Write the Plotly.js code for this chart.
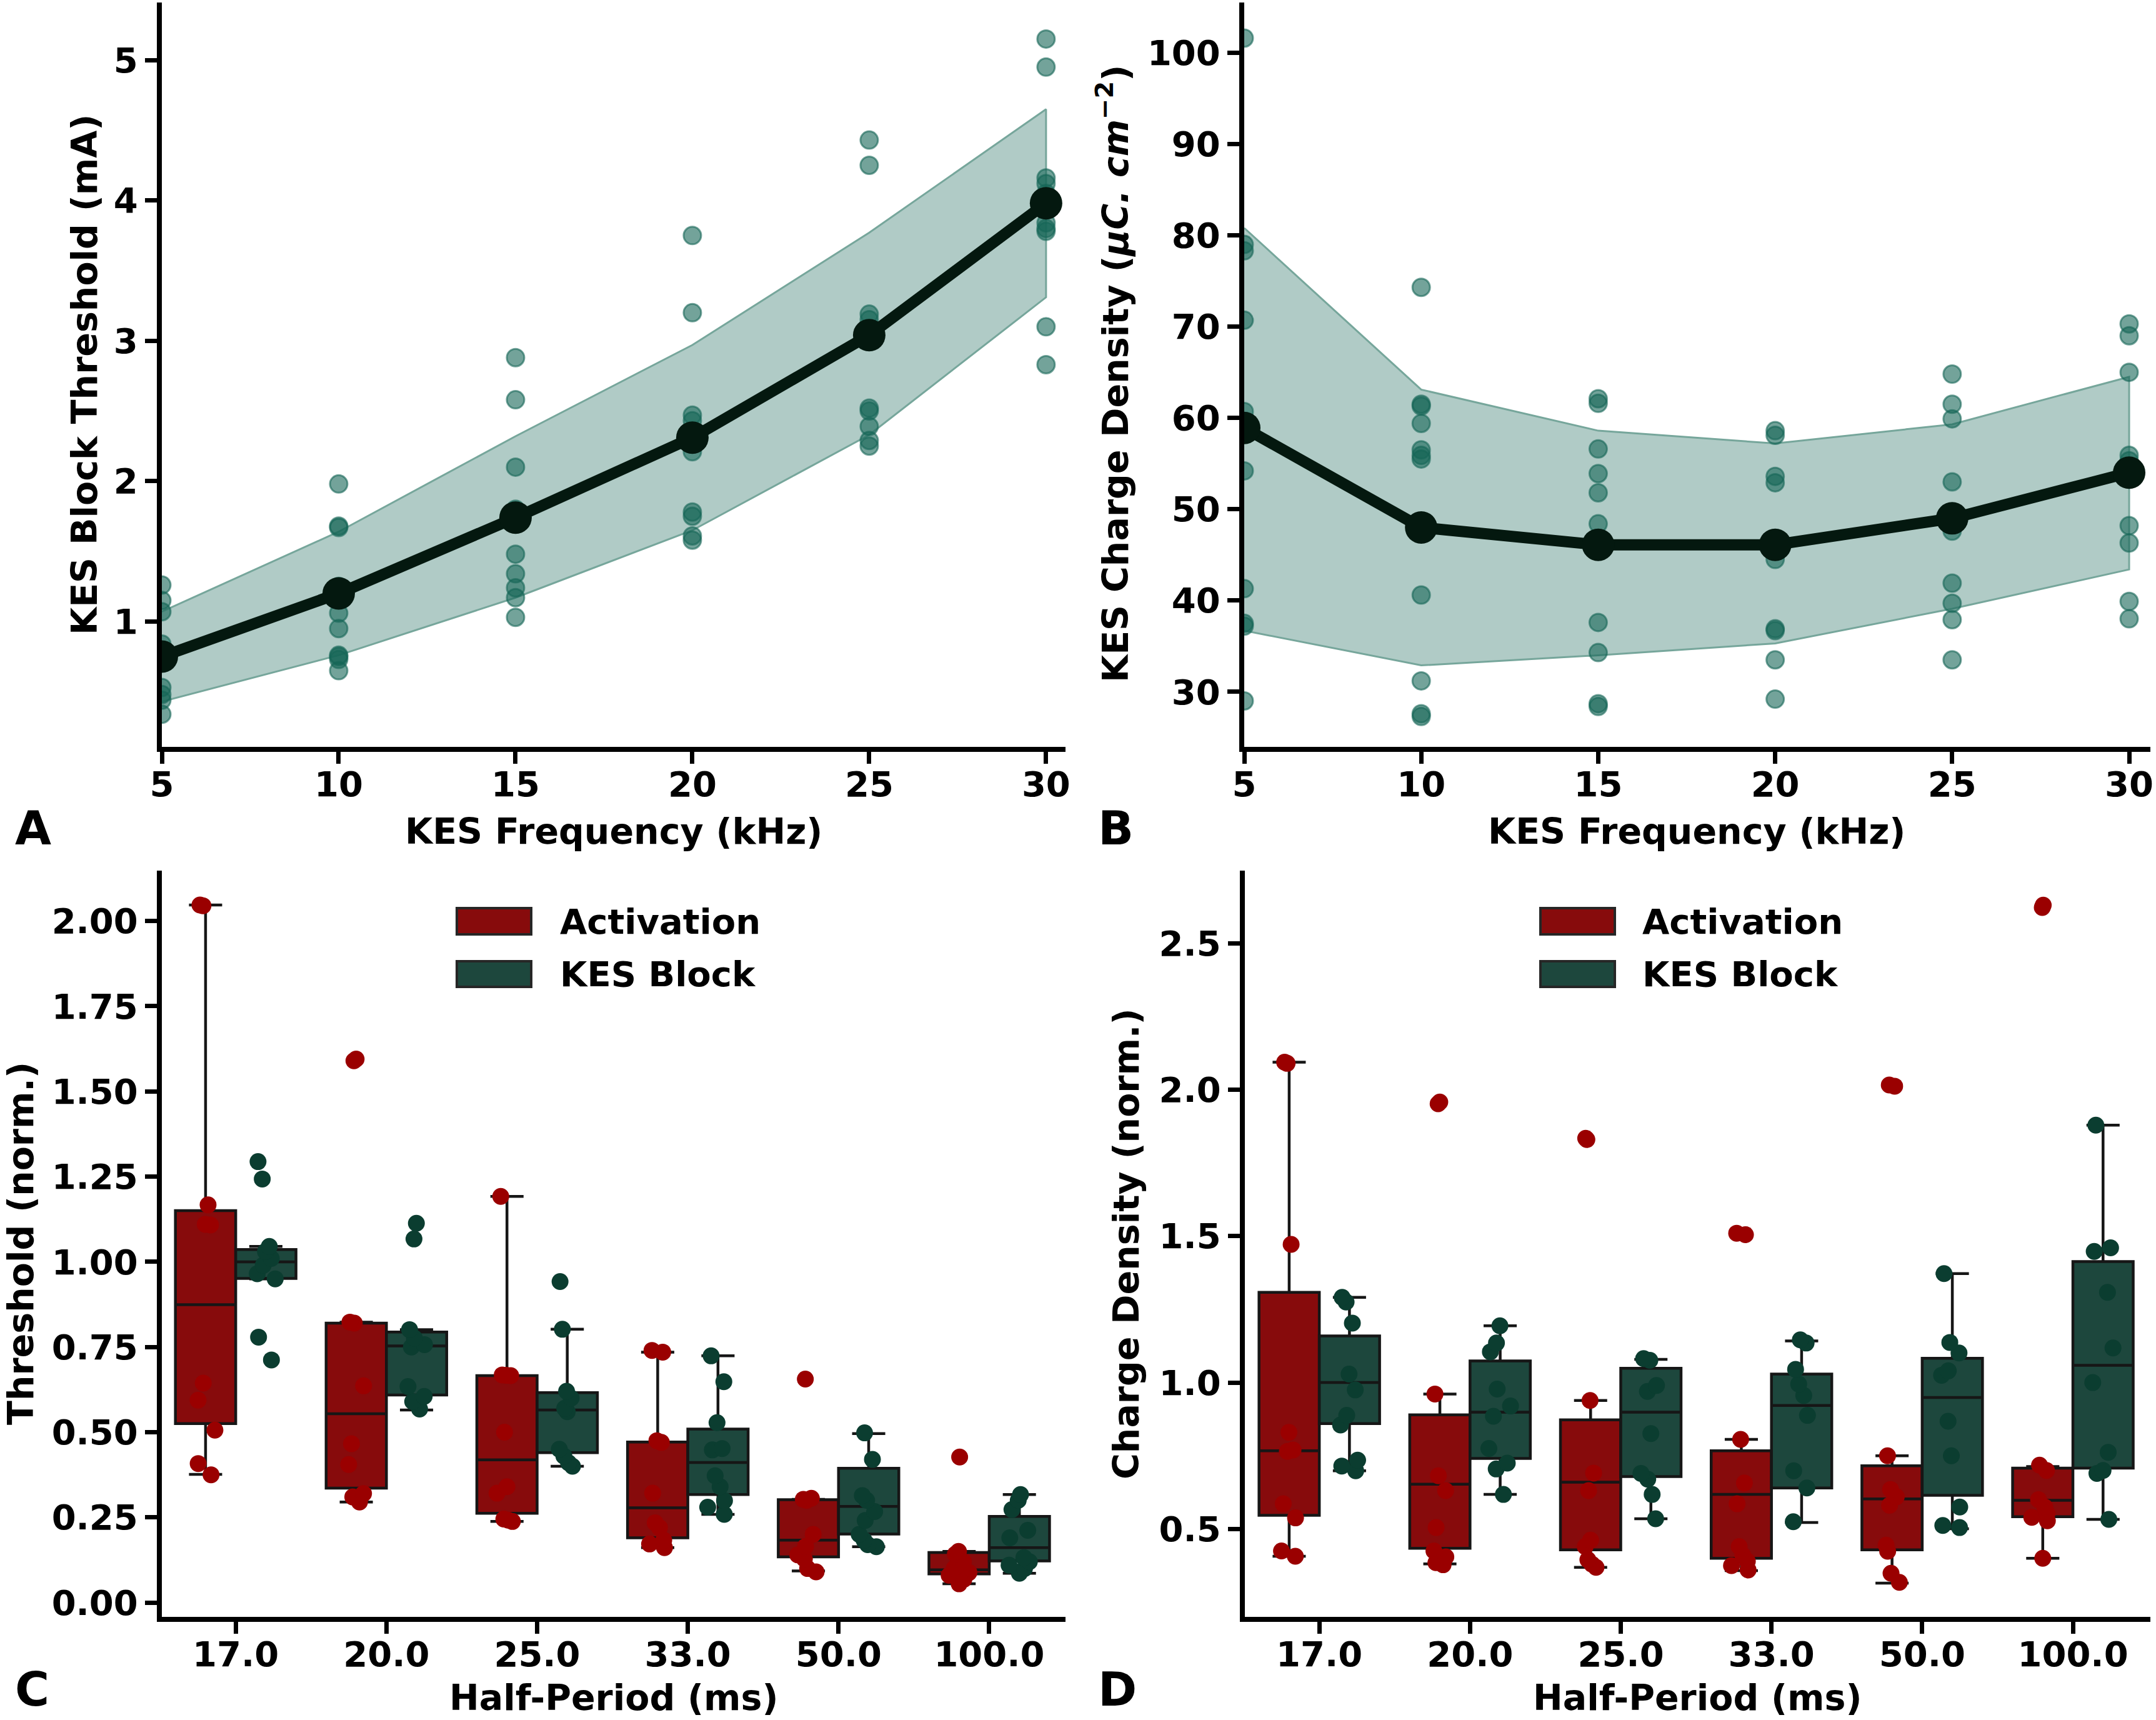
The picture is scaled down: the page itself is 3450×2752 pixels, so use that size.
<!DOCTYPE html>
<html>
<head>
<meta charset="utf-8">
<script src="https://cdn.plot.ly/plotly-3.0.1.min.js"></script>
<style>
  html, body { margin: 0; padding: 0; background: #ffffff; }
  #chart { width: 3450px; height: 2752px; }
</style>
</head>
<body>
<div id="chart"></div>
<script>
// ---------- Panel A / B: KES frequency sweep ----------
const freqs = [5, 10, 15, 20, 25, 30];

// A: block threshold (mA)
const thrMean  = [0.75, 1.20, 1.74, 2.31, 3.04, 3.98];
const thrUpper = [1.07, 1.64, 2.32, 2.97, 3.77, 4.65];
const thrLower = [0.43, 0.76, 1.17, 1.65, 2.33, 3.31];
const thrPoints = [
  [1.26, 1.15, 1.07, 0.84, 0.53, 0.48, 0.44, 0.34],
  [1.98, 1.68, 1.67, 1.25, 1.06, 0.95, 0.76, 0.75, 0.73, 0.65],
  [2.88, 2.58, 2.10, 1.80, 1.48, 1.34, 1.24, 1.17, 1.03],
  [3.75, 3.20, 2.47, 2.43, 2.21, 1.78, 1.75, 1.61, 1.58],
  [4.43, 4.25, 3.19, 3.15, 2.52, 2.50, 2.39, 2.29, 2.25],
  [5.15, 4.95, 4.16, 4.12, 4.05, 3.84, 3.80, 3.78, 3.10, 2.83]
];

// B: charge density (uC/cm^2)
const cdMean  = [58.9, 48.0, 46.1, 46.1, 49.0, 54.0];
const cdUpper = [80.8, 63.1, 58.6, 57.2, 59.3, 64.5];
const cdLower = [36.7, 32.9, 34.0, 35.3, 39.1, 43.4];
const cdPoints = [
  [101.6, 79.0, 78.3, 70.7, 60.7, 54.2, 41.3, 37.5, 37.2, 29.0],
  [74.3, 61.5, 61.3, 59.4, 56.5, 55.9, 55.5, 47.5, 40.6, 31.2, 27.6, 27.3],
  [62.1, 61.6, 56.6, 53.9, 51.8, 48.4, 37.6, 34.3, 28.7, 28.4],
  [58.6, 58.1, 53.6, 52.9, 44.5, 36.9, 36.7, 33.5, 29.2],
  [64.8, 61.5, 59.9, 53.0, 47.6, 41.9, 39.7, 37.9, 33.5],
  [70.3, 69.0, 65.0, 55.9, 55.3, 48.2, 46.3, 39.9, 38.0]
];

// ---------- Panel C / D: half-period sweep ----------
const halfPeriods = ['17.0', '20.0', '25.0', '33.0', '50.0', '100.0'];
const seriesNames = ['Activation', 'KES Block'];

// C: normalised threshold, box statistics
const thrActQ1  = [0.525, 0.336, 0.262, 0.190, 0.134, 0.084];
const thrActMed = [0.874, 0.554, 0.419, 0.278, 0.183, 0.096];
const thrActQ3  = [1.150, 0.820, 0.666, 0.471, 0.302, 0.147];
const thrActLo  = [0.376, 0.295, 0.238, 0.161, 0.093, 0.055];
const thrActHi  = [2.047, 0.823, 1.192, 0.735, 0.303, 0.150];
const thrKesQ1  = [0.951, 0.609, 0.440, 0.317, 0.201, 0.122];
const thrKesMed = [1.000, 0.753, 0.565, 0.411, 0.282, 0.161];
const thrKesQ3  = [1.036, 0.794, 0.616, 0.509, 0.394, 0.253];
const thrKesLo  = [0.950, 0.565, 0.400, 0.259, 0.164, 0.086];
const thrKesHi  = [1.045, 0.801, 0.802, 0.724, 0.496, 0.317];

// C: normalised threshold, individual samples
const thrActPts = [
  [2.047, 2.045, 1.167, 1.110, 1.108, 0.644, 0.594, 0.506, 0.408, 0.375],
  [1.595, 1.590, 0.823, 0.820, 0.636, 0.466, 0.405, 0.320, 0.310, 0.295],
  [1.192, 0.668, 0.667, 0.666, 0.500, 0.340, 0.321, 0.245, 0.242, 0.238],
  [0.740, 0.735, 0.475, 0.470, 0.321, 0.234, 0.220, 0.183, 0.172, 0.161],
  [0.656, 0.306, 0.303, 0.300, 0.200, 0.165, 0.140, 0.128, 0.100, 0.090],
  [0.427, 0.150, 0.142, 0.120, 0.100, 0.092, 0.088, 0.080, 0.068, 0.055]
];
const thrKesPts = [
  [1.294, 1.243, 1.045, 1.030, 1.010, 0.990, 0.965, 0.950, 0.779, 0.712],
  [1.113, 1.067, 0.801, 0.776, 0.757, 0.750, 0.634, 0.605, 0.590, 0.568],
  [0.942, 0.802, 0.620, 0.600, 0.570, 0.560, 0.450, 0.430, 0.410, 0.400],
  [0.724, 0.648, 0.528, 0.452, 0.448, 0.372, 0.340, 0.299, 0.280, 0.259],
  [0.498, 0.420, 0.314, 0.300, 0.267, 0.241, 0.200, 0.183, 0.170, 0.164],
  [0.317, 0.300, 0.273, 0.212, 0.190, 0.132, 0.120, 0.110, 0.100, 0.086]
];

// D: normalised charge density, box statistics
const cdActQ1  = [0.547, 0.434, 0.429, 0.400, 0.429, 0.542];
const cdActMed = [0.767, 0.653, 0.660, 0.618, 0.603, 0.598];
const cdActQ3  = [1.308, 0.890, 0.873, 0.767, 0.716, 0.708];
const cdActLo  = [0.407, 0.381, 0.369, 0.358, 0.315, 0.400];
const cdActHi  = [2.094, 0.961, 0.939, 0.806, 0.750, 0.713];
const cdKesQ1  = [0.860, 0.741, 0.679, 0.640, 0.615, 0.708];
const cdKesMed = [1.000, 0.899, 0.899, 0.922, 0.949, 1.059];
const cdKesQ3  = [1.159, 1.074, 1.049, 1.029, 1.083, 1.413];
const cdKesLo  = [0.699, 0.618, 0.535, 0.522, 0.501, 0.533];
const cdKesHi  = [1.291, 1.194, 1.079, 1.142, 1.372, 1.879];

// D: normalised charge density, individual samples
const cdActPts = [
  [2.094, 2.090, 1.472, 0.830, 0.770, 0.765, 0.586, 0.538, 0.425, 0.407],
  [1.958, 1.952, 0.961, 0.682, 0.631, 0.505, 0.425, 0.405, 0.385, 0.378],
  [1.834, 1.830, 0.939, 0.691, 0.631, 0.462, 0.440, 0.395, 0.380, 0.369],
  [1.510, 1.505, 0.806, 0.657, 0.586, 0.440, 0.410, 0.390, 0.375, 0.360],
  [2.016, 2.012, 0.750, 0.635, 0.610, 0.581, 0.445, 0.424, 0.349, 0.318],
  [2.630, 2.622, 0.718, 0.700, 0.600, 0.575, 0.553, 0.540, 0.528, 0.400]
];
const cdKesPts = [
  [1.291, 1.275, 1.203, 1.029, 0.975, 0.888, 0.855, 0.735, 0.715, 0.699],
  [1.194, 1.135, 1.105, 0.978, 0.920, 0.885, 0.775, 0.725, 0.705, 0.618],
  [1.082, 1.076, 0.990, 0.970, 0.826, 0.690, 0.670, 0.618, 0.535],
  [1.146, 1.135, 1.045, 0.995, 0.956, 0.888, 0.699, 0.640, 0.525],
  [1.372, 1.137, 1.101, 1.040, 1.025, 0.868, 0.750, 0.575, 0.512, 0.505],
  [1.879, 1.460, 1.448, 1.308, 1.118, 1.000, 0.762, 0.700, 0.690, 0.533]
];

// ---------- styling ----------
const FONT = 'DejaVu Sans';
const ACT_FILL = '#870b0c';
const KES_FILL = '#1d473d';
const ACT_DOT = '#9a0000';
const KES_DOT = '#0b3d30';
const BOX_EDGE = '#161616';
const BAND_FILL = 'rgb(176,203,198)';
const BAND_EDGE = 'rgb(118,166,155)';
const DOT_TEAL = 'rgba(22,102,87,0.6)';
const MEAN_COL = '#04180f';
const W = 3450, H = 2752;

// frequency panel: shaded band, raw samples, mean curve
function freqTraces(points, mean, upper, lower, xa, ya) {
  const bandX = freqs.concat(freqs.slice().reverse());
  const bandY = upper.concat(lower.slice().reverse());
  const px = [], py = [];
  points.forEach((vals, i) => vals.forEach(v => { px.push(freqs[i]); py.push(v); }));
  return [
    { type: 'scatter', mode: 'lines', x: bandX, y: bandY, fill: 'toself',
      fillcolor: BAND_FILL, line: { color: BAND_EDGE, width: 3 },
      xaxis: xa, yaxis: ya, hoverinfo: 'skip' },
    { type: 'scatter', mode: 'markers', x: px, y: py,
      marker: { size: 28, color: DOT_TEAL, line: { color: DOT_TEAL, width: 3 } },
      xaxis: xa, yaxis: ya, hoverinfo: 'skip' },
    { type: 'scatter', mode: 'lines+markers', x: freqs, y: mean,
      line: { color: MEAN_COL, width: 18 },
      marker: { size: 52, color: MEAN_COL },
      xaxis: xa, yaxis: ya, hoverinfo: 'skip' }
  ];
}

// half-period panel: one box per category plus jittered samples
function boxTraces(q1, med, q3, lo, hi, pts, offset, fill, dot, name, xa, ya) {
  const pos = halfPeriods.map((_, i) => i + offset);
  const sx = [], sy = [];
  pts.forEach((vals, i) => vals.forEach(v => { sx.push(i + offset); sy.push(v); }));
  return [
    { type: 'box', name: name, x: pos, q1: q1, median: med, q3: q3,
      lowerfence: lo, upperfence: hi, width: 0.4, whiskerwidth: 0.55,
      fillcolor: fill, line: { color: BOX_EDGE, width: 4.5 },
      boxpoints: false, xaxis: xa, yaxis: ya, hoverinfo: 'skip' },
    { type: 'box', name: name, x: sx, y: sy, width: 0.4,
      boxpoints: 'all', jitter: 0.4, pointpos: 0,
      fillcolor: 'rgba(0,0,0,0)', line: { color: 'rgba(0,0,0,0)', width: 0 },
      marker: { size: 27, color: dot, opacity: 1 },
      xaxis: xa, yaxis: ya, hoverinfo: 'skip' }
  ];
}

const traces = [].concat(
  freqTraces(thrPoints, thrMean, thrUpper, thrLower, 'x', 'y'),
  freqTraces(cdPoints, cdMean, cdUpper, cdLower, 'x2', 'y2'),
  boxTraces(thrActQ1, thrActMed, thrActQ3, thrActLo, thrActHi, thrActPts, -0.2, ACT_FILL, ACT_DOT, seriesNames[0], 'x3', 'y3'),
  boxTraces(thrKesQ1, thrKesMed, thrKesQ3, thrKesLo, thrKesHi, thrKesPts, 0.2, KES_FILL, KES_DOT, seriesNames[1], 'x3', 'y3'),
  boxTraces(cdActQ1, cdActMed, cdActQ3, cdActLo, cdActHi, cdActPts, -0.2, ACT_FILL, ACT_DOT, seriesNames[0], 'x4', 'y4'),
  boxTraces(cdKesQ1, cdKesMed, cdKesQ3, cdKesLo, cdKesHi, cdKesPts, 0.2, KES_FILL, KES_DOT, seriesNames[1], 'x4', 'y4')
);

const tickFont = { family: FONT, size: 56, color: '#000', weight: 'bold' };
const axisBase = {
  showline: true, linecolor: '#000', linewidth: 8,
  ticks: 'outside', ticklen: 19, tickwidth: 7, tickcolor: '#000',
  showgrid: false, zeroline: false, tickfont: tickFont, fixedrange: true
};
const ax = (extra) => Object.assign({}, axisBase, extra);

const catIdx = halfPeriods.map((_, i) => i);
const px = (v) => v / W;          // page pixel -> paper x
const py = (v) => 1 - v / H;      // page pixel -> paper y

const titleFont = { family: FONT, size: 57, color: '#000', weight: 'bold' };
const letterFont = { family: FONT, size: 75, color: '#000', weight: 'bold' };

function note(text, x, y, extra) {
  return Object.assign({ text: text, x: px(x), y: py(y), xref: 'paper', yref: 'paper',
    showarrow: false, font: titleFont, xanchor: 'center', yanchor: 'middle' }, extra || {});
}

const annotations = [
  note('KES Frequency (kHz)', 982, 1330),
  note('KES Frequency (kHz)', 2715, 1330),
  note('Half-Period (ms)', 982, 2716),
  note('Half-Period (ms)', 2716, 2716),
  note('KES Block Threshold (mA)', 170, 600, { textangle: -90, xanchor: 'right' }),
  note('KES Charge Density (<i>μC. cm</i><sup>−2</sup>)', 1820, 598, { textangle: -90, xanchor: 'right' }),
  note('Threshold (norm.)', 68, 1990, { textangle: -90, xanchor: 'right' }),
  note('Charge Density (norm.)', 1837, 1990, { textangle: -90, xanchor: 'right' }),
  note('A', 22, 1325, { font: letterFont, xanchor: 'left' }),
  note('B', 1755, 1325, { font: letterFont, xanchor: 'left' }),
  note('C', 22, 2703, { font: letterFont, xanchor: 'left' }),
  note('D', 1755, 2703, { font: letterFont, xanchor: 'left' })
];

// hand-drawn legends for the two box panels
const shapes = [];
function legend(x0, textX) {
  const rows = [[1453, 1495, ACT_FILL], [1538, 1579, KES_FILL]];
  rows.forEach((r, k) => {
    shapes.push({ type: 'rect', xref: 'paper', yref: 'paper',
      x0: px(x0), x1: px(x0 + 119), y0: py(r[1]), y1: py(r[0]),
      fillcolor: r[2], line: { color: '#262626', width: 4 } });
    annotations.push(note(seriesNames[k], textX, (r[0] + r[1]) / 2,
      { xanchor: 'left', font: tickFont }));
  });
}
legend(731, 894);
legend(2465, 2626);

const xTickShift = -15;
const layout = {
  width: W, height: H,
  margin: { l: 0, r: 0, t: 0, b: 0 },
  paper_bgcolor: '#fff', plot_bgcolor: '#fff',
  showlegend: false,
  font: { family: FONT, size: 56, color: '#000', weight: 'bold' },
  boxmode: 'overlay',
  xaxis:  ax({ domain: [px(259), px(1705)], anchor: 'y', range: [5, 30.55], tickvals: freqs, ticklabelstandoff: xTickShift }),
  yaxis:  ax({ domain: [py(1195), py(4)], anchor: 'x', range: [0.107, 5.41], tickvals: [1, 2, 3, 4, 5] }),
  xaxis2: ax({ domain: [px(1991), px(3441)], anchor: 'y2', range: [5, 30.6], tickvals: freqs, ticklabelstandoff: xTickShift }),
  yaxis2: ax({ domain: [py(1195), py(4)], anchor: 'x2', range: [23.97, 105.5], tick0: 0, dtick: 10 }),
  xaxis3: ax({ domain: [px(259), px(1705)], anchor: 'y3', range: [-0.49, 5.506], tickvals: catIdx, ticktext: halfPeriods, ticklabelstandoff: xTickShift }),
  yaxis3: ax({ domain: [py(2587), py(1393)], anchor: 'x3', range: [-0.042, 2.148], tick0: 0, dtick: 0.25, tickformat: '.2f' }),
  xaxis4: ax({ domain: [px(1992), px(3441)], anchor: 'y4', range: [-0.494, 5.514], tickvals: catIdx, ticktext: halfPeriods, ticklabelstandoff: xTickShift }),
  yaxis4: ax({ domain: [py(2587), py(1393)], anchor: 'x4', range: [0.2, 2.748], tick0: 0, dtick: 0.5, tickformat: '.1f' }),
  annotations: annotations,
  shapes: shapes
};

Plotly.newPlot('chart', traces, layout, { staticPlot: true, displayModeBar: false });
</script>
</body>
</html>
